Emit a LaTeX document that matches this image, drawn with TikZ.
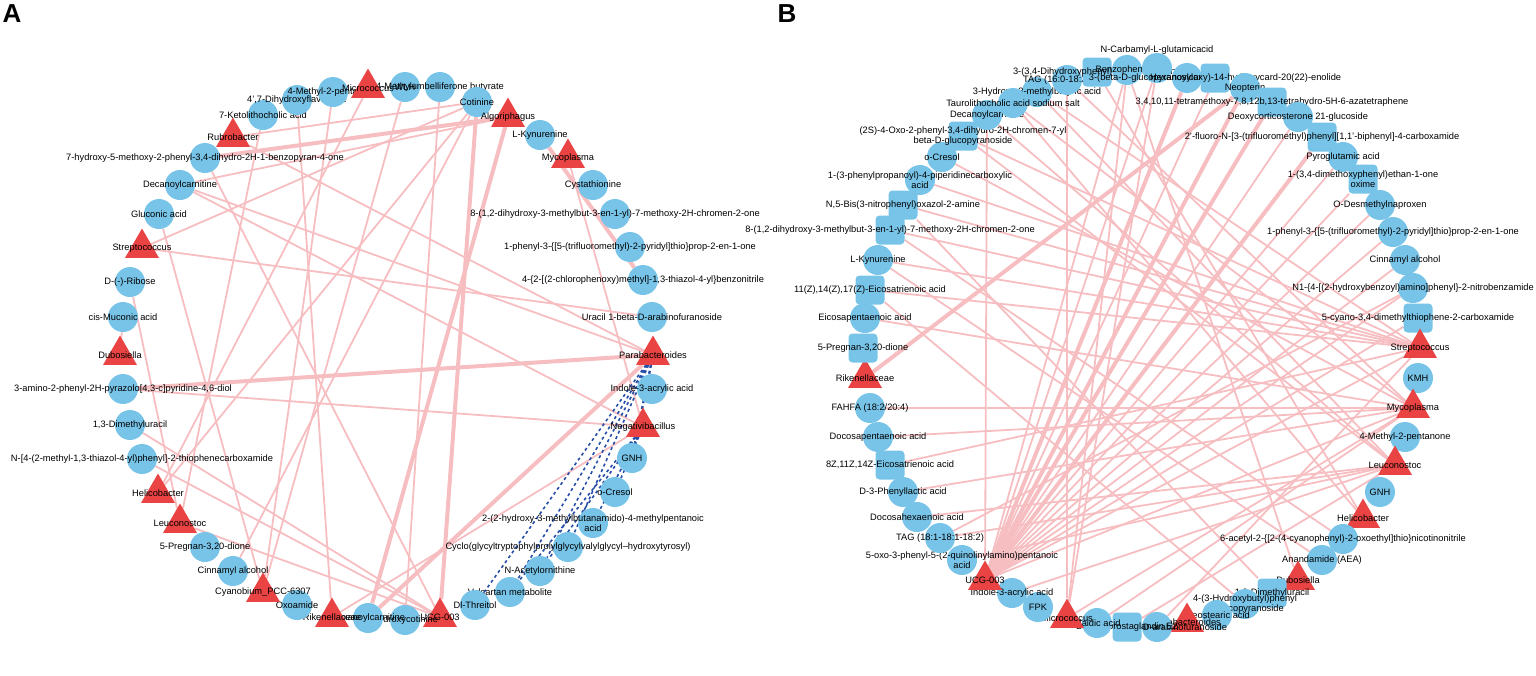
\documentclass[tikz,border=0pt]{standalone}
\usepackage{fontspec}
\setmainfont{Liberation Sans}
\usetikzlibrary{shapes.geometric,backgrounds}
\definecolor{metblue}{RGB}{120,196,232}
\definecolor{bacred}{RGB}{234,67,67}
\definecolor{edgepink}{RGB}{247,190,193}
\definecolor{negblue}{RGB}{38,78,168}

\begin{document}
\begin{tikzpicture}[x=1pt, y=-1pt,
    met/.style={circle, fill=metblue, inner sep=0, minimum size=30pt},
    sqm/.style={rectangle, rounded corners=4pt, fill=metblue, inner sep=0, minimum size=29pt},
    bac/.style={regular polygon, regular polygon sides=3, fill=bacred, inner sep=0, minimum size=39pt},
    every label/.style={font=\fontsize{9.3}{10.5}\selectfont, inner sep=0, align=center},
    every edge/.style={draw=edgepink, line width=1.8pt},
    hvy/.style={line width=4pt},
    neg/.style={draw=negblue, dashed, line width=1.6pt}]
    \useasboundingbox (0,0) rectangle (1536,675);

    \node (pA) at (12,14) {\fontsize{26}{26}\selectfont\bfseries A};
    \node (pB) at (787,14) {\fontsize{26}{26}\selectfont\bfseries B};

    % panel A
    \node (aWLH) [met, label=center:WLH] at (405,87) {};
    \node (aMUB) [met, label=center:4-Methylumbelliferone butyrate] at (440,87) {};
    \node (aCot) [met, label=center:Cotinine] at (477,102) {};
    \node (aAlg) [bac, label=center:Algoriphagus] at (508,117) {};
    \node (aKyn) [met, label=center:L-Kynurenine] at (540,135) {};
    \node (aMyc) [bac, label=center:Mycoplasma] at (568,158) {};
    \node (aCys) [met, label=center:Cystathionine] at (593,185) {};
    \node (aDhm) [met, label=center:8-(1{,}2-dihydroxy-3-methylbut-3-en-1-yl)-7-methoxy-2H-chromen-2-one] at (615,214) {};
    \node (aPht) [met, label=center:{1-phenyl-3-\{[5-(trifluoromethyl)-2-pyridyl]thio\}prop-2-en-1-one}] at (630,247) {};
    \node (aCpt) [met, label=center:{4-\{2-[(2-chlorophenoxy)methyl]-1,3-thiazol-4-yl\}benzonitrile}] at (643,280) {};
    \node (aUra) [met, label=center:Uracil 1-beta-D-arabinofuranoside] at (652,317) {};
    \node (aPar) [bac, label=center:Parabacteroides] at (653,355) {};
    \node (aInd) [met, label=center:Indole-3-acrylic acid] at (652,389) {};
    \node (aNeg) [bac, label=center:Negativibacillus] at (643,427) {};
    \node (aGNH) [met, label=center:GNH] at (632,458) {};
    \node (aCre) [met, label=center:o-Cresol] at (615,492) {};
    \node (aHmp) [met, label=center:2-(2-hydroxy-3-methylbutanamido)-4-methylpentanoic\\acid] at (593,523) {};
    \node (aCyc) [met, label=center:Cyclo(glycyltryptophylprolylglycylvalylglycyl--hydroxytyrosyl)] at (568,547) {};
    \node (aAco) [met, label=center:N-Acetylornithine] at (540,571) {};
    \node (aVal) [met, label=center:Valsartan metabolite] at (510,592) {};
    \node (aThr) [met, label=center:Dl-Threitol] at (475,605) {};
    \node (aUCG) [bac, label=center:UCG-003] at (440,617) {};
    \node (aHyd) [met, label=center:Hydroxycotinine] at (405,620) {};
    \node (aHex) [met, label=center:Hexanoylcarnitine] at (368,618) {};
    \node (aRik) [bac, label=center:Rikenellaceae] at (332,617) {};
    \node (aOxo) [met, label=center:Oxoamide] at (297,605) {};
    \node (aCya) [bac, label=center:Cyanobium\_PCC-6307] at (263,592) {};
    \node (aCin) [met, label=center:Cinnamyl alcohol] at (233,571) {};
    \node (aPre) [met, label=center:{5-Pregnan-3,20-dione}] at (205,547) {};
    \node (aLeu) [bac, label=center:Leuconostoc] at (180,523) {};
    \node (aHel) [bac, label=center:Helicobacter] at (158,493) {};
    \node (aNth) [met, label=center:{N-[4-(2-methyl-1,3-thiazol-4-yl)phenyl]-2-thiophenecarboxamide}] at (142,459) {};
    \node (aDmu) [met, label=center:{1,3-Dimethyluracil}] at (130,425) {};
    \node (aAmp) [met, label=center:{3-amino-2-phenyl-2H-pyrazolo[4,3-c]pyridine-4,6-diol}] at (123,389) {};
    \node (aDub) [bac, label=center:Dubosiella] at (120,355) {};
    \node (aMuc) [met, label=center:cis-Muconic acid] at (123,317) {};
    \node (aRib) [met, label=center:D-(-)-Ribose] at (130,282) {};
    \node (aStr) [bac, label=center:Streptococcus] at (142,248) {};
    \node (aGlu) [met, label=center:Gluconic acid] at (159,214) {};
    \node (aDec) [met, label=center:Decanoylcarnitine] at (180,185) {};
    \node (aHmb) [met, label=center:{7-hydroxy-5-methoxy-2-phenyl-3,4-dihydro-2H-1-benzopyran-4-one}] at (205,158) {};
    \node (aRub) [bac, label=center:Rubrobacter] at (233,137) {};
    \node (aKet) [met, label=center:7-Ketolithocholic acid] at (263,115) {};
    \node (aDhf) [met, label=center:{4',7-Dihydroxyflavanone}] at (297,100) {};
    \node (aMpt) [met, label=center:4-Methyl-2-pentanone] at (333,92) {};
    \node (aMic) [bac, label=center:Micrococcus] at (368,88) {};

    % panel B
    \node (bHmb) [met, label=center:3-Hydroxy-3-methylbutyric acid] at (1037,92) {};
    \node (bTgA) [met, label=center:{TAG (16:0-18:2-18:2)}] at (1067,80) {};
    \node (bDhp) [sqm, label=center:{3-(3,4-Dihydroxyphenyl)-2-methylalanine}] at (1097,72) {};
    \node (bBzp) [met, label=center:Benzophenone] at (1127,70) {};
    \node (bNcg) [met, label={[yshift=18pt]center:N-Carbamyl-L-glutamicacid}] at (1157,68) {};
    \node (bHxc) [met, label=center:Hexanoylcarnitine] at (1187,78) {};
    \node (bCrd) [sqm, label=center:3-(beta-D-glucopyranosyloxy)-14-hydroxycard-20(22)-enolide] at (1215,78) {};
    \node (bNeo) [met, label=center:Neopterin] at (1245,88) {};
    \node (bTmx) [sqm, label=center:{3,4,10,11-tetramethoxy-7,8,12b,13-tetrahydro-5H-6-azatetraphene}] at (1272,102) {};
    \node (bDoc) [met, label=center:Deoxycorticosterone 21-glucoside] at (1298,117) {};
    \node (bFlu) [sqm, label=center:{2'-fluoro-N-[3-(trifluoromethyl)phenyl][1,1'-biphenyl]-4-carboxamide}] at (1322,137) {};
    \node (bPyr) [met, label=center:Pyroglutamic acid] at (1343,157) {};
    \node (bOxi) [sqm, label=center:{1-(3,4-dimethoxyphenyl)ethan-1-one\\oxime}] at (1363,179) {};
    \node (bOdn) [met, label=center:O-Desmethylnaproxen] at (1380,205) {};
    \node (bPht) [met, label=center:{1-phenyl-3-\{[5-(trifluoromethyl)-2-pyridyl]thio\}prop-2-en-1-one}] at (1393,232) {};
    \node (bCin) [met, label=center:Cinnamyl alcohol] at (1405,260) {};
    \node (bNbz) [met, label=center:{N1-\{4-[(2-hydroxybenzoyl)amino]phenyl\}-2-nitrobenzamide}] at (1413,288) {};
    \node (bCya) [sqm, label=center:{5-cyano-3,4-dimethylthiophene-2-carboxamide}] at (1418,318) {};
    \node (bStr) [bac, label=center:Streptococcus] at (1420,348) {};
    \node (bKMH) [met, label=center:KMH] at (1418,378) {};
    \node (bMyc) [bac, label=center:Mycoplasma] at (1413,408) {};
    \node (bMpt) [met, label=center:4-Methyl-2-pentanone] at (1405,437) {};
    \node (bLeu) [bac, label=center:Leuconostoc] at (1395,465) {};
    \node (bGNH) [met, label=center:GNH] at (1380,492) {};
    \node (bHel) [bac, label=center:Helicobacter] at (1363,518) {};
    \node (bAcn) [met, label=center:{6-acetyl-2-\{[2-(4-cyanophenyl)-2-oxoethyl]thio\}nicotinonitrile}] at (1343,539) {};
    \node (bAea) [met, label=center:Anandamide (AEA)] at (1322,560) {};
    \node (bDub) [bac, label=center:Dubosiella] at (1298,580) {};
    \node (bDmu) [sqm, label=center:{1,3-Dimethyluracil}] at (1272,593) {};
    \node (bHbg) [met, label=center:4-(3-Hydroxybutyl)phenyl\\D-glucopyranoside] at (1245,604) {};
    \node (bEls) [met, label=center:Eleostearic acid] at (1217,615) {};
    \node (bPar) [bac, label=center:Parabacteroides] at (1187,622) {};
    \node (bUra) [met, label=center:Uracil 1-beta-D-arabinofuranoside] at (1157,627) {};
    \node (bPgl) [sqm, label=center:Bicyclo prostaglandin E2] at (1127,627) {};
    \node (bEla) [met, label=center:Elaidic acid] at (1097,623) {};
    \node (bMic) [bac, label=center:Micrococcus] at (1067,618) {};
    \node (bFPK) [met, label=center:FPK] at (1038,607) {};
    \node (bInd) [met, label=center:Indole-3-acrylic acid] at (1012,593) {};
    \node (bUCG) [bac, label=center:UCG-003] at (985,580) {};
    \node (bOxq) [met, label=center:5-oxo-3-phenyl-5-(2-quinolinylamino)pentanoic\\acid] at (962,560) {};
    \node (bTgB) [met, label=center:{TAG (18:1-18:1-18:2)}] at (940,538) {};
    \node (bDha) [met, label=center:Docosahexaenoic acid] at (917,517) {};
    \node (bPla) [met, label=center:D-3-Phenyllactic acid] at (903,492) {};
    \node (bEzt) [sqm, label=center:{8Z,11Z,14Z-Eicosatrienoic acid}] at (890,465) {};
    \node (bDpa) [met, label=center:Docosapentaenoic acid] at (878,437) {};
    \node (bFah) [met, label=center:FAHFA (18:2/20:4)] at (870,408) {};
    \node (bRik) [bac, label=center:Rikenellaceae] at (865,378) {};
    \node (bPre) [sqm, label=center:{5-Pregnan-3,20-dione}] at (863,348) {};
    \node (bEpa) [met, label=center:Eicosapentaenoic acid] at (865,318) {};
    \node (bEtr) [sqm, label=center:{11(Z),14(Z),17(Z)-Eicosatrienoic acid}] at (870,290) {};
    \node (bKyn) [met, label=center:L-Kynurenine] at (878,260) {};
    \node (bDhm) [sqm, label=center:8-(1{,}2-dihydroxy-3-methylbut-3-en-1-yl)-7-methoxy-2H-chromen-2-one] at (890,230) {};
    \node (bBis) [sqm, label=center:{N,5-Bis(3-nitrophenyl)oxazol-2-amine}] at (903,205) {};
    \node (bPpc) [met, label=center:1-(3-phenylpropanoyl)-4-piperidinecarboxylic\\acid] at (920,180) {};
    \node (bCre) [met, label=center:o-Cresol] at (942,157) {};
    \node (bOpg) [sqm, label=center:{(2S)-4-Oxo-2-phenyl-3,4-dihydro-2H-chromen-7-yl\\beta-D-glucopyranoside}] at (963,136) {};
    \node (bDec) [met, label=center:Decanoylcarnitine] at (987,115) {};
    \node (bTau) [met, label=center:Taurolithocholic acid sodium salt] at (1013,103) {};

    \begin{pgfonlayer}{background}
        % panel A links
        \path (aAlg) edge [hvy] (aHmb);
        \path (aAlg) edge [hvy] (aHex);
        \path (aAlg) edge (aDec);
        \path (aCot) edge (aHel);
        \path (aCot) edge (aRub);
        \path (aCot) edge (aStr);
        \path (aCot) edge [hvy] (aUCG);
        \path (aCot) edge (aCin);
        \path (aMUB) edge (aHyd);
        \path (aDhf) edge (aRik);
        \path (aMpt) edge (aCya);
        \path (aWLH) edge (aCya);
        \path (aMyc) edge (aNeg);
        \path (aKyn) edge [hvy] (aCpt);
        \path (aPar) edge [hvy] (aAmp);
        \path (aPar) edge [hvy] (aHex);
        \path (aPar) edge (aDec);
        \path (aPar) edge (aRub);
        \path (aNeg) edge (aDec);
        \path (aNeg) edge (aAmp);
        \path (aNeg) edge (aRik);
        \path (aHmb) edge (aUCG);
        \path (aStr) edge (aUra);
        \path (aGlu) edge (aCya);
        \path (aRib) edge (aLeu);
        \path (aMuc) edge (aDub);
        \path (aKet) edge (aLeu);
        \path (aMic) edge (aHel);
        \path (aNth) edge (aUCG);
        \path (aLeu) edge (aUCG);
        \path (aDmu) edge (aUCG);
        \path (aPar) edge [neg] (aThr);
        \path (aPar) edge [neg] (aVal);
        \path (aPar) edge [neg] (aAco);
        \path (aPar) edge [neg] (aCyc);
        \path (aPar) edge [neg, line width=2.4pt] (aGNH);
        \path (aNeg) edge [neg] (aVal);
        \path (aNeg) edge [neg] (aAco);
        \path (aNeg) edge [neg] (aHmp);
        \path (aNeg) edge [neg] (aCre);

        % panel B links
        \path (bUCG) edge (bBzp);
        \path (bUCG) edge (bNcg);
        \path (bUCG) edge [hvy] (bHxc);
        \path (bUCG) edge (bCrd);
        \path (bUCG) edge [hvy] (bNeo);
        \path (bUCG) edge [hvy] (bTmx);
        \path (bUCG) edge (bDoc);
        \path (bUCG) edge [hvy] (bFlu);
        \path (bUCG) edge (bPyr);
        \path (bUCG) edge (bOxi);
        \path (bUCG) edge (bOdn);
        \path (bUCG) edge (bPht);
        \path (bUCG) edge (bCin);
        \path (bUCG) edge (bNbz);
        \path (bUCG) edge (bCya);
        \path (bUCG) edge (bStr);
        \path (bUCG) edge (bMyc);
        \path (bUCG) edge (bDec);
        \path (bMic) edge (bTgA);
        \path (bMic) edge (bBzp);
        \path (bMic) edge (bNcg);
        \path (bMic) edge (bMyc);
        \path (bRik) edge [hvy] (bNeo);
        \path (bStr) edge (bKyn);
        \path (bStr) edge (bBis);
        \path (bStr) edge (bPpc);
        \path (bStr) edge (bDhm);
        \path (bStr) edge (bEtr);
        \path (bStr) edge (bOpg);
        \path (bStr) edge (bHmb);
        \path (bStr) edge (bEzt);
        \path (bMyc) edge (bFah);
        \path (bMyc) edge (bEpa);
        \path (bMyc) edge (bDpa);
        \path (bMyc) edge (bPla);
        \path (bMyc) edge (bTau);
        \path (bMyc) edge (bTgA);
        \path (bMyc) edge (bCre);
        \path (bLeu) edge (bTgB);
        \path (bLeu) edge (bOxq);
        \path (bLeu) edge (bInd);
        \path (bLeu) edge (bPgl);
        \path (bLeu) edge (bDha);
        \path (bLeu) edge (bDec);
        \path (bLeu) edge (bOpg);
        \path (bLeu) edge (bHmb);
        \path (bNbz) edge (bTgB);
        \path (bHel) edge (bDhp);
        \path (bHel) edge (bTau);
        \path (bDub) edge (bBzp);
        \path (bAcn) edge (bDhm);
        \path (bAea) edge (bKyn);
        \path (bDmu) edge (bBis);
        \path (bHbg) edge (bEtr);
        \path (bEla) edge (bMyc);
        \path (bUra) edge (bStr);
    \end{pgfonlayer}
\end{tikzpicture}
\end{document}
